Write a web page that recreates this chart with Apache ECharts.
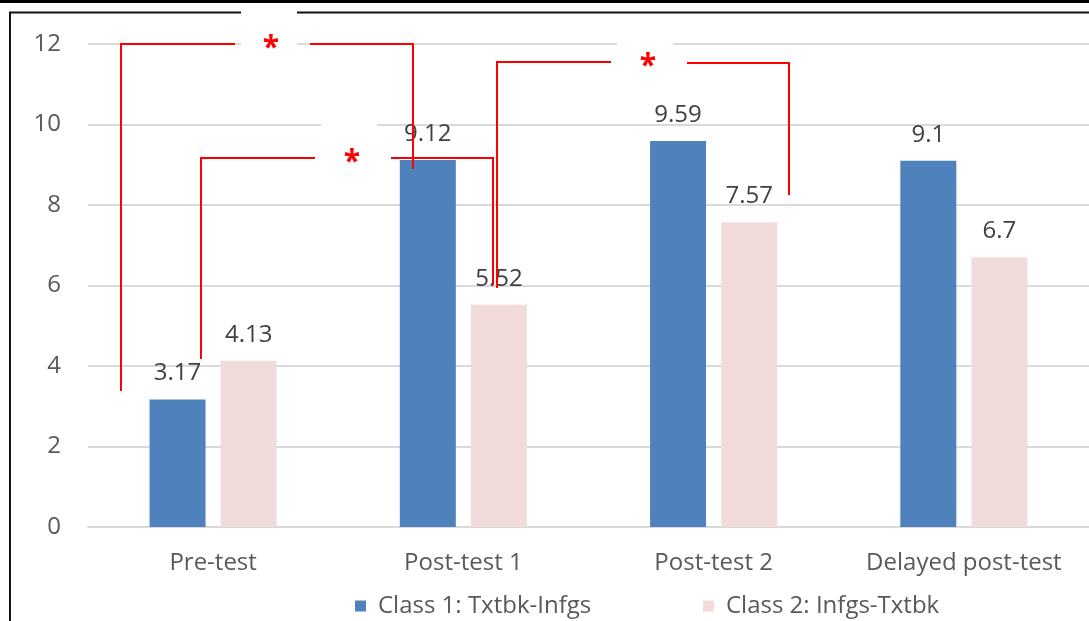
<!DOCTYPE html>
<html>
<head>
<meta charset="utf-8">
<script src="https://cdn.jsdelivr.net/npm/echarts@6/dist/echarts.min.js"></script>
<style>
html,body{margin:0;padding:0;background:#fff;}
#chart{width:1089px;height:621px;}
</style>
</head>
<body>
<div id="chart"></div>
<script>
var categories = ['Pre-test', 'Post-test 1', 'Post-test 2', 'Delayed post-test'];
var class1Values = [3.17, 9.12, 9.59, 9.1];
var class2Values = [4.13, 5.52, 7.57, 6.7];
var seriesNames = ['Class 1: Txtbk-Infgs', 'Class 2: Infgs-Txtbk'];
var yTicks = [0, 2, 4, 6, 8, 10, 12];

var FONT = 'Open Sans';
var FS = 24;
var RED = '#FF0000';

function line(points, z) {
  return { type: 'polyline', shape: { points: points }, style: { stroke: RED, lineWidth: 2, fill: null }, z: z || 110 };
}
function whiteBox(x, y, w, h) {
  return { type: 'rect', shape: { x: x, y: y, width: w, height: h }, style: { fill: '#fff' }, z: 105 };
}
function star(x, y) {
  return { type: 'text', x: x, y: y, style: { text: '*', fill: RED, font: 'bold 30px ' + FONT, textAlign: 'center', textVerticalAlign: 'middle' }, z: 111 };
}

var chart = echarts.init(document.getElementById('chart'), null, { renderer: 'canvas' });
var option = {
  backgroundColor: '#fff',
  animation: false,
  grid: { left: 88, width: 1006, top: 44, bottom: 94, containLabel: false },
  legend: [
    { data: [seriesNames[0]], left: 350, top: 589, itemWidth: 11, itemHeight: 11, icon: 'rect',
      textStyle: { fontFamily: FONT, fontSize: FS, color: '#595959', padding: [0, 0, 0, 7] } },
    { data: [seriesNames[1]], left: 698, top: 589, itemWidth: 11, itemHeight: 11, icon: 'rect',
      textStyle: { fontFamily: FONT, fontSize: FS, color: '#595959', padding: [0, 0, 0, 7] } }
  ],
  xAxis: {
    type: 'category',
    data: categories,
    axisLine: { show: true, lineStyle: { color: '#d9d9d9', width: 2 } },
    axisTick: { show: false },
    axisLabel: { interval: 0, hideOverlap: false, fontFamily: FONT, fontSize: FS, color: '#595959', margin: 24 }
  },
  yAxis: {
    type: 'value',
    min: yTicks[0],
    max: yTicks[yTicks.length - 1],
    interval: 2,
    axisLine: { show: false },
    axisTick: { show: false },
    splitLine: { lineStyle: { color: '#d9d9d9', width: 2 } },
    axisLabel: { fontFamily: FONT, fontSize: FS, color: '#595959', margin: 27 }
  },
  series: [
    { name: seriesNames[0], type: 'bar', data: class1Values, barWidth: 56, barGap: '27%',
      itemStyle: { color: '#4F81BD' },
      label: { show: true, position: 'top', distance: 14, fontFamily: FONT, fontSize: FS, color: '#404040' } },
    { name: seriesNames[1], type: 'bar', data: class2Values, barWidth: 56,
      itemStyle: { color: '#F2DCDB' },
      label: { show: true, position: 'top', distance: 14, fontFamily: FONT, fontSize: FS, color: '#404040' } }
  ],
  graphic: [
    // frame
    { type: 'rect', shape: { x: 0, y: 0, width: 1089, height: 3 }, style: { fill: '#000' }, z: 100 },
    { type: 'line', shape: { x1: 9, y1: 12.5, x2: 1089, y2: 12.5 }, style: { stroke: '#111', lineWidth: 2 }, z: 100 },
    { type: 'line', shape: { x1: 10, y1: 12, x2: 10, y2: 621 }, style: { stroke: '#111', lineWidth: 2 }, z: 100 },
    // white boxes behind stars
    whiteBox(241, 8, 56, 44),
    whiteBox(321, 120, 56, 50),
    whiteBox(617, 38, 56, 40),
    // bracket 1
    line([[121, 391], [121, 44], [235, 44]]),
    line([[310, 44], [413, 44], [413, 169]]),
    star(271, 48),
    // bracket 2
    line([[201, 359], [201, 158], [315, 158]]),
    line([[391, 158], [493, 158], [493, 285]]),
    star(352, 162),
    // bracket 3
    line([[497, 288], [497, 62], [611, 62]]),
    line([[687, 63], [789, 63], [789, 195]]),
    star(648, 66)
  ]
};
chart.setOption(option);
</script>
</body>
</html>
